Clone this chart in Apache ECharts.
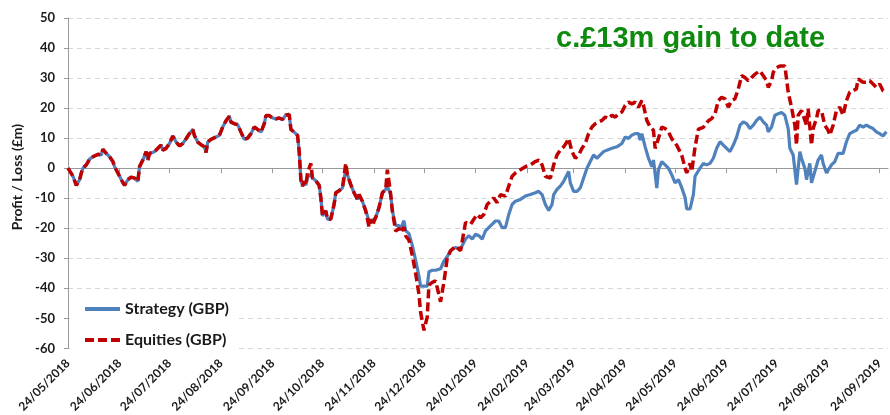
<!DOCTYPE html>
<html>
<head>
<meta charset="utf-8">
<script src="https://cdn.jsdelivr.net/npm/echarts@6/dist/echarts.min.js"></script>
<style>
html,body{margin:0;padding:0;background:#fff;}
#chart{width:890px;height:415px;}
</style>
</head>
<body>
<div id="chart"></div>
<script>
// Day offsets are counted from the first date (24/05/2018)
var startDate = '24/05/2018';
var tickLabels = ['24/05/2018','24/06/2018','24/07/2018','24/08/2018','24/09/2018','24/10/2018','24/11/2018','24/12/2018',
  '24/01/2019','24/02/2019','24/03/2019','24/04/2019','24/05/2019','24/06/2019','24/07/2019','24/08/2019','24/09/2019'];
var lastDay = 493;
var titleText = 'c.£13m gain to date';
var yName = 'Profit / Loss (£m)';
var seriesNames = ['Strategy (GBP)', 'Equities (GBP)'];

var strategyDays = [0,3,5,7,8,9,11,13,15,18,20,21,23,25,27,28,30,32,34,36,38,40,42,43,45,47,48,49,52,54,56,57,59,61,63,65,67,69,71,73,75,76,78,80,82,83,84,86,89,91,93,95,97,98,100,102,104,106,108,110,112,114,116,118,119,121,123,125,127,129,131,133,134,136,138,139,140,141,142,143,144,146,147,149,151,152,153,155,156,158,160,161,163,165,167,168,170,172,174,175,177,179,181,182,183,185,186,187,189,191,192,194,195,197,199,200,202,203,205,207,209,211,212,214,216,217,219,221,224,226,228,230,233,236,
  239,241,243,245,247,249,251,254,257,259,261,263,265,267,269,272,275,278,281,283,285,287,289,291,292,294,296,298,299,301,302,304,306,308,310,312,314,316,318,320,322,324,327,330,333,335,337,339,341,343,344,345,347,349,351,352,354,355,357,359,361,363,365,367,369,371,372,374,376,377,380,382,384,386,388,390,392,394,396,398,400,402,404,406,408,410,412,414,416,418,420,421,423,425,427,429,431,433,434,436,438,440,441,443,444,446,447,449,451,453,454,456,457,459,461,463,466,468,470,472,474,476,478,480,482,484,486,488,490,492];
var strategyValues = [0,-2.7,-5.7,-3.8,-1.6,0,1.1,3,3.8,4.6,4.4,6.3,4.9,3.8,2.2,0.5,-1.6,-3.8,-5.7,-3.8,-3,-3.3,-4.4,0.5,2.7,5.5,2.7,4.9,5.5,6.6,7.7,6,6.6,8.2,10.7,8.7,7.4,8.2,9.8,11.5,12.9,10.9,8.7,7.8,7.1,5.2,8.7,9.6,10.4,10.9,13.7,15.8,17.3,15.3,14.8,14.5,12,9.6,10,11.5,13.7,12.9,12,14.8,17.5,17.5,16.7,16.4,16.7,16.2,17.7,17.9,12.9,12,10.9,5.5,-3.8,-6,-4.4,-5.7,-3,-2,-3.3,-4.2,-5.7,-9.8,-15.9,-14.2,-17,-17,-12,-8.2,-7.5,-6.6,-0.5,-2.2,-5.5,-8.2,-10.4,-8.8,-11,-14.2,-17.5,-17,-17.5,-16.4,-15.9,-13.1,-8.2,-7.1,-6,-8.8,-14.2,-19.1,-19.1,-20.2,-17.5,-20.8,-21.8,-25.7,-30.6,-36,-39.3,-39.3,-39.3,-34.5,-34,-34,-33.5,-31,-29.5,-27.5,-26.4,-26.9,
  -23.6,-22.5,-23.6,-22,-22.5,-23.6,-20.9,-19.2,-17.6,-17.6,-19.8,-19.8,-15.4,-12.1,-11,-10.4,-9.3,-8.8,-8.2,-7.7,-8.8,-12.1,-14.1,-12.1,-8.8,-7.1,-6,-4.4,-3.3,-1.1,-4.9,-7.7,-7.7,-6.6,-3.3,0,2.2,4.4,3.3,4.4,5.5,6,6.6,7.1,8.2,10.4,9.9,11,11.5,11.5,9.3,11.5,7.1,3.3,0.5,2.7,-6.6,-0.5,2.2,1.1,0,-2.2,-4.9,-3.8,-6.5,-9.8,-13.6,-13.6,-8.7,-2.7,0,1.6,1.1,1.6,3.3,6.6,8.8,7.7,6.6,5.5,7.7,10.4,14.3,15.4,14.8,13.2,14.3,15.9,17,15.4,14.3,12.1,13.7,17.6,18.1,18.5,17.6,13.2,6.6,4.4,-5.5,5.5,3.3,0,-3.8,1.6,-4.9,-1.1,2.7,4.4,1.6,-1.6,-1.1,1.1,2.2,4.9,4.9,8.8,11.5,12.1,12.6,14.3,13.7,14.3,13.7,13.2,12.1,11.5,10.7,12.1];

var equitiesDays = [0,3,5,7,8,9,11,13,15,18,20,21,23,25,27,28,30,32,34,36,38,40,42,43,45,47,48,49,52,54,56,57,59,61,63,65,67,69,71,73,75,76,78,80,82,83,84,86,89,91,93,95,97,98,100,102,104,106,108,110,112,114,116,118,119,121,123,125,127,129,131,133,134,136,138,139,140,141,142,143,144,146,147,149,151,152,153,155,156,158,160,161,163,165,167,168,170,172,174,175,177,179,181,182,183,185,186,187,189,191,192,194,195,197,199,200,202,203,205,207,209,211,212,214,216,217,219,221,224,226,228,230,233,236,
  239,242,244,246,248,250,252,254,256,258,260,263,265,267,269,272,275,278,281,283,285,287,290,292,294,296,298,300,301,303,305,307,309,311,313,315,317,319,321,323,325,327,329,331,333,335,337,339,341,343,345,346,348,350,352,353,355,357,359,361,363,366,369,371,372,374,375,377,379,382,385,387,389,391,393,395,397,399,401,403,405,407,409,411,413,416,418,420,421,423,424,426,428,431,432,433,435,436,437,438,439,441,442,444,445,447,448,450,451,453,455,457,458,460,462,464,466,468,470,472,474,475,478,480,482,484,486,488,490,492];
var equitiesValues = [0,-2.7,-5.7,-3.8,-1.6,0,1.1,3,3.8,4.6,4.4,6.3,4.9,3.8,2.2,0.5,-1.6,-3.8,-5.7,-3.8,-3,-3.3,-4.4,0.5,2.7,5.5,2.7,4.9,5.5,6.6,7.7,6,6.6,8.2,10.7,8.7,7.4,8.2,9.8,11.5,12.9,10.9,8.7,7.8,7.1,5.2,8.7,9.6,10.4,10.9,13.7,15.8,17.3,15.3,14.8,14.5,12,9.6,10,11.5,13.7,12.9,12,14.8,17.5,17.5,16.7,16.4,16.7,16.2,17.7,17.9,12.9,12,10.9,5.5,-3.8,-6,-4.4,-5.7,-1.6,1.6,-3.3,-4.2,-5.7,-9.8,-15.9,-14.2,-17,-17,-12,-8.2,-7.5,-6.6,1.6,-2.2,-5.5,-8.2,-10.4,-8.8,-11,-14.2,-19.6,-17,-19.1,-16.4,-15.9,-13.1,-8.2,-7.1,-0.5,-8.8,-14.2,-21,-20,-21.5,-19.6,-22.5,-24,-29,-35,-42,-48,-54,-49.5,-39,-38,-37.5,-44.5,-38,-30,-27.5,-26,-27.5,
  -18.1,-18.7,-17,-15.4,-16.5,-15.4,-12.1,-11,-9.9,-11.5,-8.8,-9.3,-6,-2.7,-1.6,-0.5,0.5,1.1,2.2,2.7,1.1,-2.7,-3.3,1.1,4.4,6,7.1,8.8,9.9,5.5,3.3,4.4,6.6,8.2,11.5,13.7,14.8,15.4,15.9,17,16.5,17.6,17,18.1,18.7,20.9,22,21.4,22,20.3,22.5,20.9,15.9,13.7,12.6,6.6,9.9,13.7,13.2,12.1,9.8,7.6,4.3,0,-1.6,1.6,-1.1,7,13,13.6,15.8,16.5,18.1,22.5,23.6,23.1,20.3,22.5,23.1,26.4,30.8,30.2,29.1,30.2,31.3,32.4,30.8,29.1,26.9,29.1,31.9,33.5,34,34,29.7,25.3,20.3,19.8,14.3,7.7,17.6,19.2,17.6,14.3,19.8,7.7,13.2,16.5,19.2,19.2,14.3,12.6,11,14.3,19.2,20.3,17.6,22.5,25.3,25.8,26.4,29.7,28.6,28.6,29.1,28,26.9,28,25.8,25.3];

var DAY = 86400000;
function parseDMY(s){ var p = s.split('/'); return Date.UTC(+p[2], +p[1]-1, +p[0]); }
function fmtDMY(t){ var d = new Date(t); function z(n){return (n<10?'0':'')+n;} return z(d.getUTCDate())+'/'+z(d.getUTCMonth()+1)+'/'+d.getUTCFullYear(); }
var t0 = parseDMY(startDate);
// tick positions as day offsets from the start date
var tickValues = tickLabels.map(function(s){ return Math.round((parseDMY(s) - t0) / DAY); });
function pairs(days, vals){ return days.map(function(d,i){ return [d, vals[i]]; }); }

var chart = echarts.init(document.getElementById('chart'), null, {renderer:'canvas'});
var font = 'Lato, "Open Sans", sans-serif';
chart.setOption({
  animation: false,
  backgroundColor: '#fff',
  grid: {left: 68, right: 2, top: 18, bottom: 64, containLabel: false},
  xAxis: [{
    type: 'value', min: 0, max: lastDay, position: 'bottom',
    axisLine: {show: true, onZero: true, lineStyle: {color: '#9a9a9a', width: 1}},
    axisTick: {show: true, length: 5, customValues: tickValues, lineStyle: {color: '#9a9a9a'}},
    axisLabel: {show: false},
    splitLine: {show: false}
  }, {
    type: 'value', min: 0, max: lastDay, position: 'bottom',
    axisLine: {show: false, onZero: false},
    axisTick: {show: false},
    splitLine: {show: false},
    axisLabel: {show: true, customValues: tickValues, rotate: 45, margin: 13,
      formatter: function(v){ return fmtDMY(t0 + v*DAY); },
      fontFamily: font, fontWeight: 'bold', fontSize: 12, color: '#1a1a1a'}
  }],
  yAxis: {
    type: 'value', min: -60, max: 50, interval: 10,
    axisLine: {show: true, lineStyle: {color: '#9a9a9a', width: 1}},
    axisTick: {show: true, length: 4, lineStyle: {color: '#9a9a9a'}},
    axisLabel: {fontFamily: font, fontWeight: 'bold', fontSize: 13, color: '#1a1a1a', margin: 13},
    splitLine: {show: true, lineStyle: {color: '#d6d6d6', type: [5, 4], width: 1}}
  },
  legend: {
    orient: 'vertical', left: 70, top: 295,
    backgroundColor: '#ffffff',
    padding: [6, 8, 8, 13],
    itemWidth: 35, itemHeight: 14, itemGap: 15,
    itemStyle: {opacity: 0, borderWidth: 0},
    lineStyle: {width: 4},
    textStyle: {fontFamily: font, fontWeight: 'bold', fontSize: 16, color: '#1a1a1a'},
    data: seriesNames
  },
  graphic: [{
    type: 'text', left: 556, top: 24, silent: true,
    style: {text: titleText, fontFamily: '"Liberation Sans", Arial, sans-serif', fontWeight: 'bold', fontSize: 29, fill: '#0e8a0e'}
  }, {
    type: 'text', x: 17, y: 177, rotation: Math.PI/2, silent: true,
    style: {text: yName, fontFamily: font, fontWeight: 'bold', fontSize: 14, fill: '#1a1a1a', align: 'center', verticalAlign: 'middle'}
  }],
  series: [{
    name: seriesNames[0], type: 'line', xAxisIndex: 0, showSymbol: false, symbol: 'none',
    data: pairs(strategyDays, strategyValues),
    lineStyle: {color: '#4f81bd', width: 3.2},
    itemStyle: {color: '#4f81bd'}, z: 2
  }, {
    name: seriesNames[1], type: 'line', xAxisIndex: 0, showSymbol: false, symbol: 'none',
    data: pairs(equitiesDays, equitiesValues),
    lineStyle: {color: '#c00000', width: 3.5, type: [9, 4]},
    itemStyle: {color: '#c00000'}, z: 3
  }]
});
</script>
</body>
</html>
